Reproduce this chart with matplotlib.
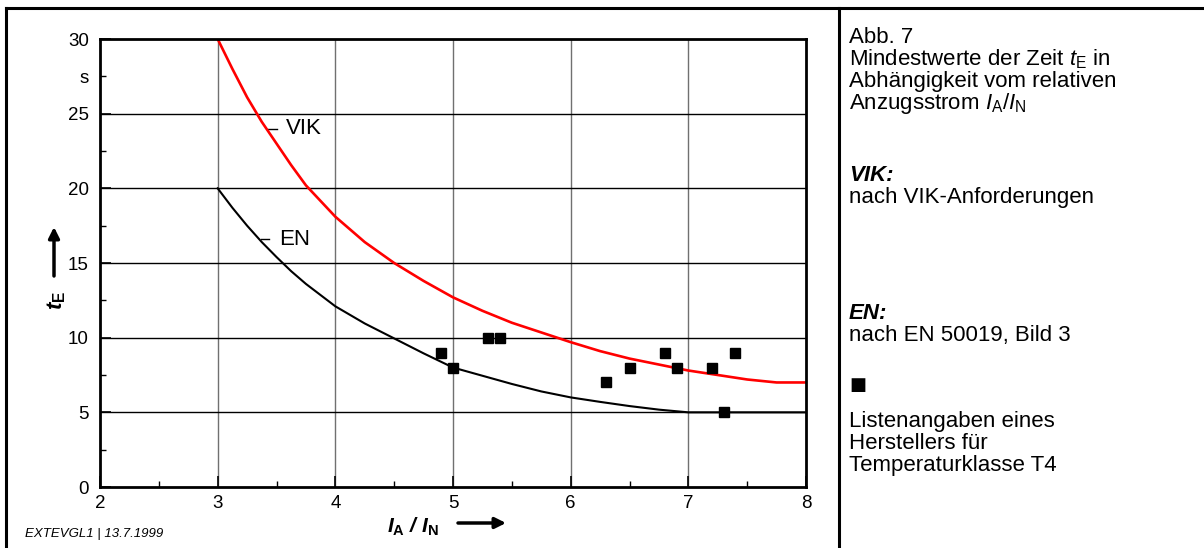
import matplotlib
matplotlib.use("Agg")
import matplotlib.pyplot as plt
from matplotlib.lines import Line2D
from matplotlib.patches import FancyArrowPatch
from matplotlib.ticker import FixedLocator, FixedFormatter

plt.rcParams['font.family'] = ['Liberation Sans', 'DejaVu Sans']
plt.rcParams['mathtext.fontset'] = 'custom'
plt.rcParams['mathtext.rm'] = 'Liberation Sans'
plt.rcParams['mathtext.it'] = 'Liberation Sans:italic'
plt.rcParams['mathtext.bf'] = 'Liberation Sans:bold'
plt.rcParams['mathtext.bfit'] = 'Liberation Sans:bold:italic'

# ---- data ----
vik_x = [3.0, 3.125, 3.25, 3.375, 3.5, 3.625, 3.75, 4.0, 4.25, 4.5, 4.75, 5.0,
         5.25, 5.5, 5.75, 6.0, 6.25, 6.5, 6.75, 7.0, 7.25, 7.5, 7.75, 8.0]
vik_y = [30.0, 28.0, 26.1, 24.45, 23.0, 21.55, 20.2, 18.1, 16.4, 15.0, 13.8, 12.7,
         11.8, 11.0, 10.35, 9.7, 9.1, 8.6, 8.2, 7.8, 7.5, 7.2, 7.0, 7.0]
en_x = [3.0, 3.125, 3.25, 3.375, 3.5, 3.625, 3.75, 4.0, 4.25, 4.5, 4.75, 5.0,
        5.25, 5.5, 5.75, 6.0, 6.25, 6.5, 6.75, 7.0, 8.0]
en_y = [20.0, 18.7, 17.5, 16.4, 15.4, 14.45, 13.6, 12.1, 10.95, 9.95, 8.95, 8.0,
        7.45, 6.9, 6.4, 6.0, 5.7, 5.42, 5.18, 5.0, 5.0]
pts_x = [4.9, 5.0, 5.3, 5.4, 6.3, 6.5, 6.8, 6.9, 7.2, 7.3, 7.4]
pts_y = [9, 8, 10, 10, 7, 8, 9, 8, 8, 5, 9]
x_ticks = [2, 3, 4, 5, 6, 7, 8]
y_ticks = [0, 5, 10, 15, 20, 25, 30]

W, H = 1204, 548
fig = plt.figure(figsize=(W / 100, H / 100), dpi=100)


def fp(x, y):
    return (x / W, 1 - y / H)


ax = fig.add_axes([100 / W, 1 - 487 / H, 706 / W, 448 / H])
ax.set_xlim(2, 8)
ax.set_ylim(0, 30)

ax.plot(vik_x, vik_y, color='#ff0000', lw=1.9, zorder=4)
ax.plot(en_x, en_y, color='black', lw=1.5, zorder=4)
ax.plot(pts_x, pts_y, linestyle='none', marker='s', markersize=7.5,
        color='black', zorder=5)

# grid
for xv in x_ticks[1:-1]:
    ax.axvline(xv, color='#707070', lw=1.0, zorder=1)
for yv in y_ticks[1:-1]:
    ax.axhline(yv, color='black', lw=1.0, zorder=1)

ax.xaxis.set_major_locator(FixedLocator(x_ticks))
ax.xaxis.set_major_formatter(FixedFormatter([str(v) for v in x_ticks]))
ax.xaxis.set_minor_locator(FixedLocator([2.5, 3.5, 4.5, 5.5, 6.5, 7.5]))
ax.yaxis.set_major_locator(FixedLocator(y_ticks))
ax.yaxis.set_major_formatter(FixedFormatter([str(v) for v in y_ticks]))
minor_y = [2.5, 7.5, 12.5, 17.5, 22.5, 27.5]
ax.yaxis.set_minor_locator(FixedLocator(minor_y))
ax.yaxis.set_minor_formatter(FixedFormatter(['', '', '', '', '', 's']))

ax.tick_params(axis='both', which='major', direction='in', length=8, width=1.2,
               labelsize=13.5, pad=6, color='black')
ax.tick_params(axis='both', which='minor', direction='in', length=4, width=1.0,
               labelsize=13.5, pad=6)
ax.tick_params(axis='y', which='both', pad=8)
for s in ax.spines.values():
    s.set_linewidth(2.0)
    s.set_zorder(6)

# curve labels
ax.plot([3.43, 3.50], [24.0, 24.0], color='black', lw=1.0)
ax.text(3.58, 24.0, 'VIK', fontsize=16, va='center', ha='left')
ax.plot([3.37, 3.44], [16.6, 16.6], color='black', lw=1.0)
ax.text(3.52, 16.6, 'EN', fontsize=16, va='center', ha='left')

# axis labels with arrows
fig.text(*fp(413, 527), r'$\mathbfit{I}_{\mathbf{A}}\ \mathbfit{/}\ \mathbfit{I}_{\mathbf{N}}$',
         fontsize=15, ha='center', va='center')
fig.add_artist(FancyArrowPatch(fp(458, 523), fp(506, 523), transform=fig.transFigure,
                               arrowstyle='-|>', mutation_scale=16, lw=2.5,
                               color='black', shrinkA=0, shrinkB=0))
fig.text(*fp(57, 300), r'$\mathbfit{t}_{\mathbf{E}}$', fontsize=16, rotation=90,
         ha='center', va='center')
fig.add_artist(FancyArrowPatch(fp(54, 276), fp(54, 227), transform=fig.transFigure,
                               arrowstyle='-|>', mutation_scale=16, lw=2.5,
                               color='black', shrinkA=0, shrinkB=0))

fig.text(*fp(25, 534), 'EXTEVGL1 | 13.7.1999', fontsize=9.5, style='italic',
         ha='left', va='center')

# frame lines
for (x0, y0, x1, y1) in [(6, 8, 1204, 8), (6, 8, 6, 548), (839, 8, 839, 548)]:
    a, b = fp(x0, y0)
    c, d = fp(x1, y1)
    fig.add_artist(Line2D([a, c], [b, d], transform=fig.transFigure,
                          color='black', lw=2.2))

# right-hand text
tx = 849
lines = [
    (43, 'Abb. 7', {}),
    (65, r'Mindestwerte der Zeit $\mathit{t}_{\mathrm{E}}$ in', {}),
    (87, 'Abhängigkeit vom relativen', {}),
    (109, r'Anzugsstrom $\mathit{I}_{\mathrm{A}}/\mathit{I}_{\mathrm{N}}$', {}),
    (181, 'VIK:', {'weight': 'bold', 'style': 'italic'}),
    (203, 'nach VIK-Anforderungen', {}),
    (319, 'EN:', {'weight': 'bold', 'style': 'italic'}),
    (341, 'nach EN 50019, Bild 3', {}),
    (390, '■', {'family': ['DejaVu Sans'], 'fontsize': 13}),
    (427, 'Listenangaben eines', {}),
    (449, 'Herstellers für', {}),
    (471, 'Temperaturklasse T4', {}),
]
for y, s, kw in lines:
    props = dict(fontsize=16, ha='left', va='baseline')
    props.update(kw)
    fig.text(*fp(tx, y), s, **props)

fig.savefig('out.png', dpi=100)
